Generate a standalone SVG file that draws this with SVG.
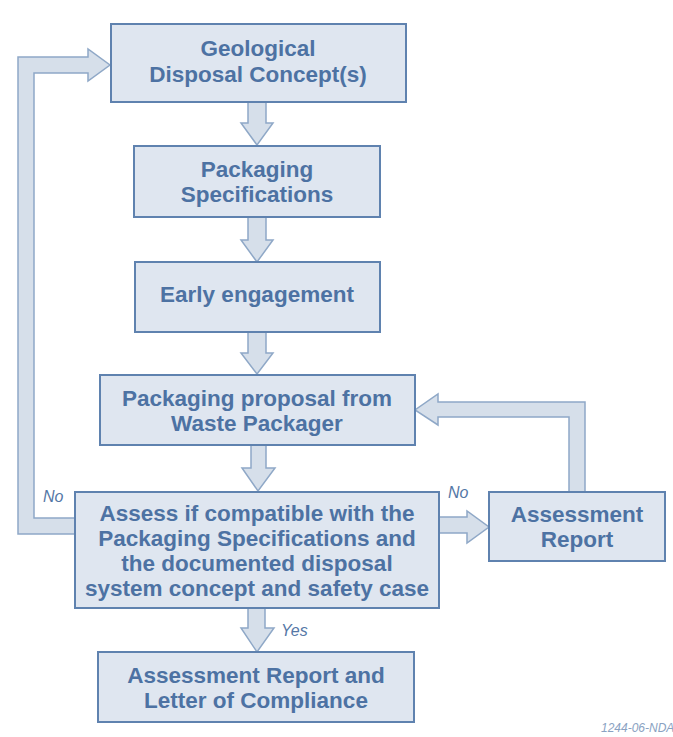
<svg xmlns="http://www.w3.org/2000/svg" width="673" height="737" viewBox="0 0 673 737">
<style>
.box{fill:#dfe6f0;stroke:#5f82af;stroke-width:2}
.arr{fill:#d6dfea;stroke:#8fa8c7;stroke-width:1.5;stroke-linejoin:miter}
.t{font-family:"Liberation Sans",Arial,sans-serif;font-weight:bold;font-size:22.5px;fill:#4d72a3;text-anchor:middle}
.lab{font-family:"Liberation Sans",Arial,sans-serif;font-style:italic;font-size:16px;fill:#5577a6}
.ref{font-family:"Liberation Sans",Arial,sans-serif;font-style:italic;font-size:12px;fill:#8aa2c2}
</style>
<rect width="673" height="737" fill="#ffffff"/>
<g id="connectors">
<path class="arr" d="M248,102 V123 H241 L257,145 L273,123 H266 V102 Z"/>
<path class="arr" d="M248,217 V240 H241 L257,262 L273,240 H266 V217 Z"/>
<path class="arr" d="M248,332 V353 H241 L257,374 L273,353 H266 V332 Z"/>
<path class="arr" d="M251,445 V468 H242 L258,491 L275,468 H266 V445 Z"/>
<path class="arr" d="M248,608 V628 H241 L257,652 L274,628 H265 V608 Z"/>
<path class="arr" d="M439,517 H467 V511 L489,527 L467,543 V533 H439 Z"/>
<path class="arr" d="M569,492 V417 H438 V425 L415,410 L438,394 V402 H585 V492 Z"/>
<path class="arr" d="M75,518 H34 V73 H88 V81 L110,65 L88,49 V57 H18 V534 H75 Z"/>
</g>
<g id="n1"><rect class="box" x="111" y="24" width="295" height="78"/>
<text class="t" x="258" y="56">Geological</text><text class="t" x="258" y="82">Disposal Concept(s)</text></g>
<g id="n2"><rect class="box" x="134" y="146" width="246" height="71"/>
<text class="t" x="257" y="177">Packaging</text><text class="t" x="257" y="202">Specifications</text></g>
<g id="n3"><rect class="box" x="135" y="262" width="245" height="70"/>
<text class="t" x="257" y="302">Early engagement</text></g>
<g id="n4"><rect class="box" x="100" y="375" width="315" height="70"/>
<text class="t" x="257" y="406">Packaging proposal from</text><text class="t" x="257" y="431">Waste Packager</text></g>
<g id="n5"><rect class="box" x="75" y="492" width="364" height="116"/>
<text class="t" x="257" y="521">Assess if compatible with the</text>
<text class="t" x="257" y="546">Packaging Specifications and</text>
<text class="t" x="257" y="571">the documented disposal</text>
<text class="t" x="257" y="596">system concept and safety case</text></g>
<g id="n6"><rect class="box" x="489" y="492" width="176" height="69"/>
<text class="t" x="577" y="522">Assessment</text><text class="t" x="577" y="547">Report</text></g>
<g id="n7"><rect class="box" x="98" y="652" width="316" height="70"/>
<text class="t" x="256" y="683">Assessment Report and</text><text class="t" x="256" y="708">Letter of Compliance</text></g>
<text class="lab" x="43" y="502">No</text>
<text class="lab" x="448" y="498">No</text>
<text class="lab" x="281" y="636">Yes</text>
<text class="ref" x="601" y="732">1244-06-NDA</text>
</svg>
